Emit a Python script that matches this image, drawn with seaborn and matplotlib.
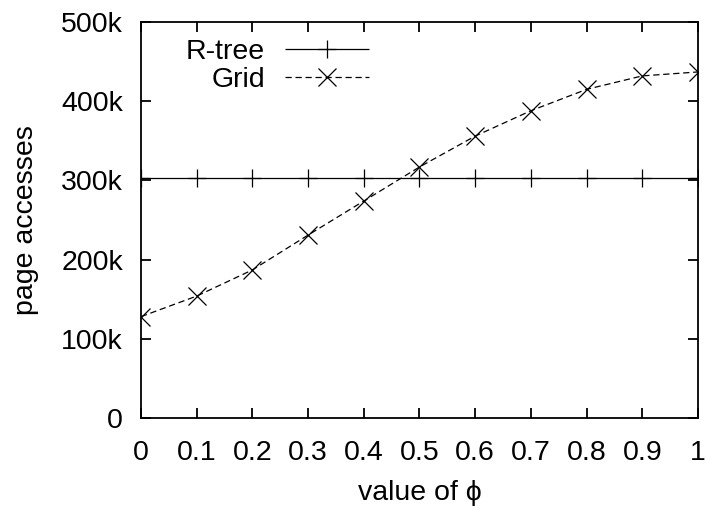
import pandas as pd
import seaborn as sns
import matplotlib.pyplot as plt
from matplotlib.ticker import FuncFormatter

# values
phi = [0.0, 0.1, 0.2, 0.3, 0.4, 0.5, 0.6, 0.7, 0.8, 0.9, 1.0]
rtree = [303000] * 11
grid = [128000, 154000, 187000, 231000, 274000, 317000, 356000, 388000, 415000, 432000, 437000]
series = ['R-tree', 'Grid']

df = pd.DataFrame({
    'phi': phi * 2,
    'pages': rtree + grid,
    'method': ['R-tree'] * len(phi) + ['Grid'] * len(phi),
})

sns.set_style('ticks', {'axes.edgecolor': 'black', 'xtick.color': 'black',
                        'ytick.color': 'black', 'text.color': 'black',
                        'axes.labelcolor': 'black'})
plt.rcParams['font.family'] = ['Liberation Sans', 'DejaVu Sans']
fs = 20.5

fig = plt.figure(figsize=(7.05, 5.07), dpi=100)
ax = fig.add_axes([0.2, 0.1755, 0.79, 0.781])

sns.lineplot(data=df, x='phi', y='pages', hue='method', style='method',
             hue_order=series, style_order=series,
             palette={'R-tree': 'black', 'Grid': 'black'},
             markers={'R-tree': '+', 'Grid': 'x'},
             dashes={'R-tree': (1, 0), 'Grid': (5, 3)},
             linewidth=0.9, markersize=13, markeredgewidth=0.9,
             markeredgecolor='black', ax=ax)

ax.set_xlim(0, 1)
ax.set_ylim(0, 500000)
ax.set_xticks(phi)
ax.set_xticklabels(['0'] + ['%.1f' % v for v in phi[1:-1]] + ['1'])
ax.set_yticks(range(0, 500001, 100000))
ax.yaxis.set_major_formatter(FuncFormatter(lambda v, p: '0' if v == 0 else '%dk' % (v / 1000)))

ax.tick_params(direction='in', length=7, width=1.3, top=True, right=True,
               labelsize=fs, colors='black')
ax.tick_params(axis='y', pad=13)
ax.tick_params(axis='x', pad=16)
for s in ax.spines.values():
    s.set_visible(True)
    s.set_linewidth(1.3)
    s.set_color('black')

ax.set_xlabel('value of ϕ', fontsize=fs, labelpad=10, color='black')
ax.set_ylabel('page accesses', fontsize=fs, labelpad=16, color='black')

leg = ax.legend(loc='upper left', frameon=False, markerfirst=False,
                handlelength=2.95, borderaxespad=0.0, labelspacing=0.05,
                handletextpad=0.7, fontsize=fs, bbox_to_anchor=(0.06, 0.985))
for t in leg.get_texts():
    t.set_color('black')

fig.savefig('out.png', dpi=100)
